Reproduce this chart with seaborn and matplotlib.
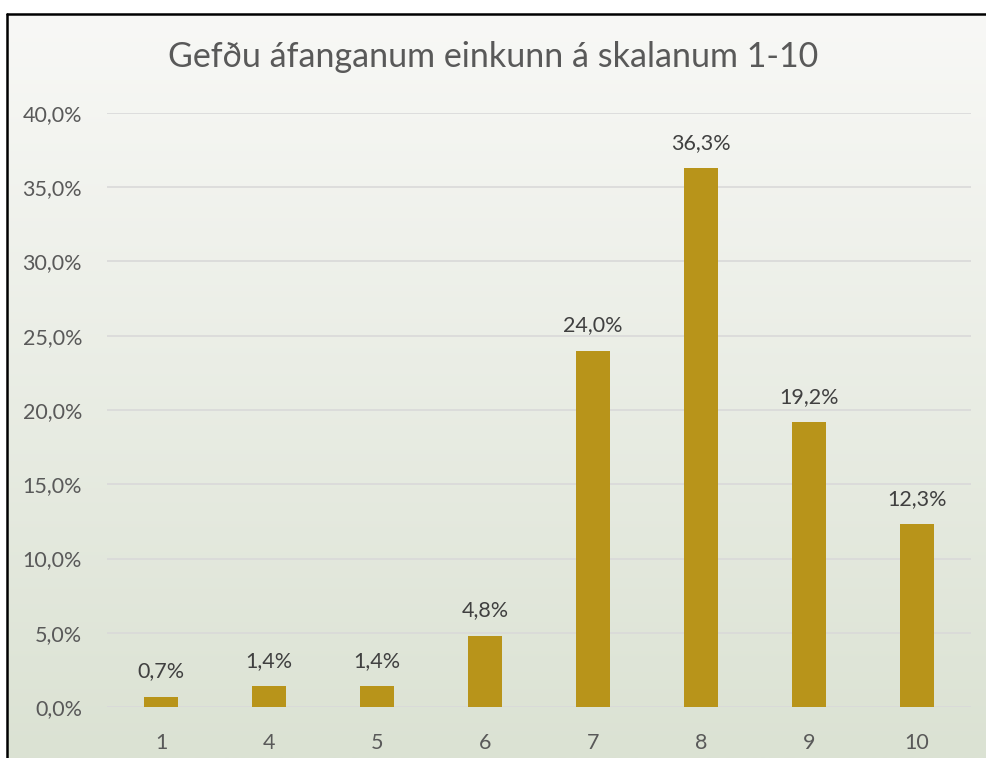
import numpy as np
import pandas as pd
import matplotlib
matplotlib.use("Agg")
import matplotlib.pyplot as plt
from matplotlib.lines import Line2D
import seaborn as sns

grades = ['1', '4', '5', '6', '7', '8', '9', '10']
percent = [0.7, 1.4, 1.4, 4.8, 24.0, 36.3, 19.2, 12.3]
yticks = [0, 5, 10, 15, 20, 25, 30, 35, 40]
title = 'Gefðu áfanganum einkunn á skalanum 1-10'

df = pd.DataFrame({'grade': grades, 'percent': percent})

sns.set_theme(style='white')
plt.rcParams['font.family'] = ['Lato', 'DejaVu Sans']

W, H = 987, 758
fig = plt.figure(figsize=(W / 100, H / 100), dpi=100)
fig.patch.set_facecolor('white')

# gradient background of the chart area
bg = fig.add_axes([8 / W, 0, 1 - 8 / W, 1 - 15 / H], zorder=0)
top = np.array([248, 248, 246]) / 255
bot = np.array([219, 226, 211]) / 255
t = np.linspace(0, 1, 256)[:, None]
grad = (top[None, :] * (1 - t) + bot[None, :] * t)[:, None, :]
bg.imshow(grad, aspect='auto', extent=[0, 1, 0, 1])
bg.set_axis_off()

# border at left and top
fig.add_artist(Line2D([7 / W, 7 / W], [0, 1 - 14 / H], color='black', lw=1.8))
fig.add_artist(Line2D([7 / W, 1], [1 - 14 / H, 1 - 14 / H], color='black', lw=1.8))

ax = fig.add_axes([107 / W, (H - 707) / H, (971 - 107) / W, (707 - 113) / H], zorder=1)
ax.patch.set_alpha(0)
sns.barplot(data=df, x='grade', y='percent', color='#B8941A', width=0.31,
            saturation=1, linewidth=0, ax=ax, zorder=3)

ax.set_ylim(0, 40)
ax.set_xlim(-0.5, len(grades) - 0.5)
ax.set_yticks(yticks)
ax.set_yticklabels([f'{v:.1f}%'.replace('.', ',') for v in yticks])
ax.yaxis.grid(True, color='#d9d9d9', lw=1.2, zorder=0)
ax.xaxis.grid(False)
for s in ax.spines.values():
    s.set_visible(False)
ax.tick_params(axis='both', length=0, labelsize=15.5, labelcolor='#595959')
ax.tick_params(axis='y', pad=18)
ax.tick_params(axis='x', pad=19)
ax.set_xlabel('')
ax.set_ylabel('')

for c in ax.containers:
    ax.bar_label(c, labels=[f'{v:.1f}%'.replace('.', ',') for v in percent],
                 padding=11, fontsize=15.5, color='#404040')

fig.text(0.5, 1 - 57 / H, title, ha='center', va='center', fontsize=24.5, color='#595959')

fig.savefig('out.png', dpi=100)
